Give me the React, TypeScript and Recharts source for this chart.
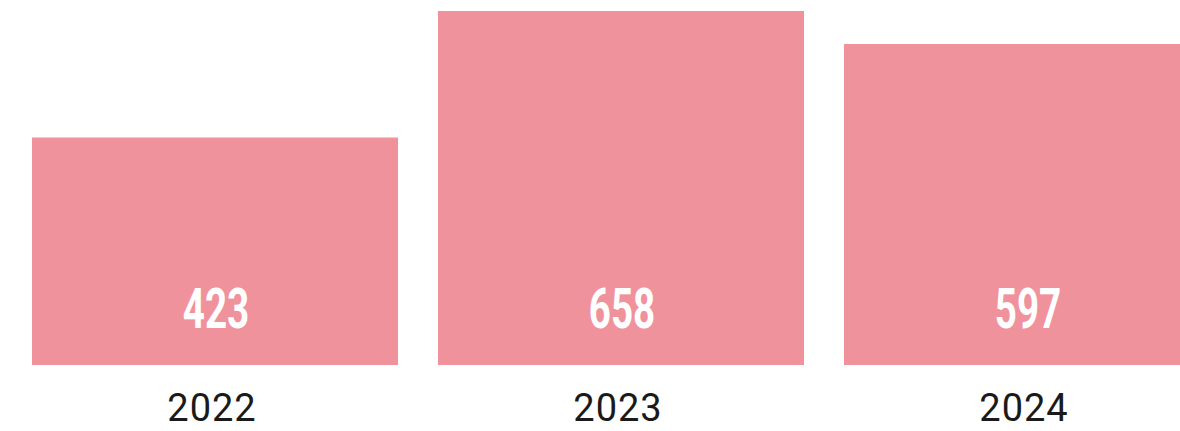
import React from "react";
import { BarChart, Bar, XAxis, YAxis, LabelList } from "recharts";

const years = ["2022", "2023", "2024"];
const counts = [423, 658, 597];

const BAR_COLOR = "#f0929c";

const data = years.map((year, i) => ({ year, count: counts[i] }));

// white condensed value inside the bottom of each bar
const ValueLabel = (props: any) => {
  const { x, y, width, height, value } = props;
  const cx = x + width / 2 + 1;
  const baseY = y + height - 37;
  return (
    <text
      x={0}
      y={0}
      transform={`translate(${cx}, ${baseY}) scale(0.69, 1)`}
      textAnchor="middle"
      fill="#ffffff"
      fontFamily="Roboto, sans-serif"
      fontWeight={700}
      fontSize={56}
    >
      {value}
    </text>
  );
};

const YearTick = (props: any) => {
  const { x, payload } = props;
  return (
    <text
      x={x - 3}
      y={421}
      textAnchor="middle"
      fill="#1a1a1a"
      fontFamily="Roboto, sans-serif"
      fontSize={38}
      letterSpacing={1}
    >
      {payload.value}
    </text>
  );
};

export default function App() {
  return (
    <div
      style={{
        position: "absolute",
        left: 0,
        top: 0,
        width: 1180,
        height: 431,
        overflow: "hidden",
        background: "#fff",
      }}
    >
      <BarChart
        width={1238}
        height={431}
        data={data}
        margin={{ top: 10, right: 8, bottom: 0, left: 12 }}
        barCategoryGap={20}
      >
        <XAxis
          dataKey="year"
          axisLine={false}
          tickLine={false}
          height={66}
          tick={<YearTick />}
          interval={0}
        />
        <YAxis hide domain={[0, 660]} />
        <Bar dataKey="count" fill={BAR_COLOR} isAnimationActive={false}>
          <LabelList dataKey="count" content={<ValueLabel />} />
        </Bar>
      </BarChart>
    </div>
  );
}
